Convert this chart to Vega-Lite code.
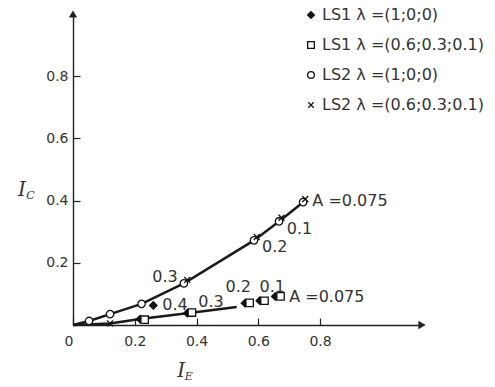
{
  "$schema": "https://vega.github.io/schema/vega-lite/v6.json",
  "autosize": {"type": "none"},
  "padding": {"left": 73, "top": 14, "right": 73, "bottom": 62},
  "width": 349,
  "height": 311,
  "background": "white",
  "config": {
    "view": {"stroke": null},
    "font": "DejaVu Sans",
    "axis": {"grid": false, "domainColor": "#222", "domainWidth": 1.4, "tickColor": "#222", "tickWidth": 1.2, "labelFont": "DejaVu Sans", "labelFontSize": 14, "labelColor": "#333"},
    "legend": {"symbolStrokeColor": "#111", "symbolStrokeWidth": 1.3}
  },
  "datasets": {
    "lines": [
      {"line": "upper", "x": 0, "y": 0},
      {"line": "upper", "x": 0.052, "y": 0.013},
      {"line": "upper", "x": 0.12, "y": 0.035},
      {"line": "upper", "x": 0.222, "y": 0.068},
      {"line": "upper", "x": 0.359, "y": 0.134},
      {"line": "upper", "x": 0.586, "y": 0.272},
      {"line": "upper", "x": 0.667, "y": 0.333},
      {"line": "upper", "x": 0.745, "y": 0.395},
      {"line": "lower", "x": 0, "y": 0},
      {"line": "lower", "x": 0.12, "y": 0.005},
      {"line": "lower", "x": 0.217, "y": 0.019},
      {"line": "lower", "x": 0.37, "y": 0.038},
      {"line": "lower", "x": 0.53, "y": 0.058}
    ],
    "points": [
      {"s": "LS1  λ =(1;0;0)", "x": 0.217, "y": 0.019},
      {"s": "LS1  λ =(1;0;0)", "x": 0.26, "y": 0.063},
      {"s": "LS1  λ =(1;0;0)", "x": 0.37, "y": 0.038},
      {"s": "LS1  λ =(1;0;0)", "x": 0.557, "y": 0.07},
      {"s": "LS1  λ =(1;0;0)", "x": 0.605, "y": 0.078},
      {"s": "LS1  λ =(1;0;0)", "x": 0.655, "y": 0.092},
      {"s": "LS1  λ =(0.6;0.3;0.1)", "x": 0.232, "y": 0.017},
      {"s": "LS1  λ =(0.6;0.3;0.1)", "x": 0.385, "y": 0.04},
      {"s": "LS1  λ =(0.6;0.3;0.1)", "x": 0.572, "y": 0.071},
      {"s": "LS1  λ =(0.6;0.3;0.1)", "x": 0.62, "y": 0.078},
      {"s": "LS1  λ =(0.6;0.3;0.1)", "x": 0.672, "y": 0.092},
      {"s": "LS2 λ =(1;0;0)", "x": 0.052, "y": 0.013},
      {"s": "LS2 λ =(1;0;0)", "x": 0.12, "y": 0.035},
      {"s": "LS2 λ =(1;0;0)", "x": 0.222, "y": 0.068},
      {"s": "LS2 λ =(1;0;0)", "x": 0.359, "y": 0.134},
      {"s": "LS2 λ =(1;0;0)", "x": 0.586, "y": 0.272},
      {"s": "LS2 λ =(1;0;0)", "x": 0.667, "y": 0.333},
      {"s": "LS2 λ =(1;0;0)", "x": 0.745, "y": 0.395},
      {"s": "LS2 λ =(0.6;0.3;0.1)", "x": 0.12, "y": 0.005},
      {"s": "LS2 λ =(0.6;0.3;0.1)", "x": 0.37, "y": 0.145},
      {"s": "LS2 λ =(0.6;0.3;0.1)", "x": 0.595, "y": 0.283},
      {"s": "LS2 λ =(0.6;0.3;0.1)", "x": 0.675, "y": 0.345},
      {"s": "LS2 λ =(0.6;0.3;0.1)", "x": 0.752, "y": 0.405}
    ],
    "labelsLeft": [
      {"t": "A =0.075", "x": 0.775, "y": 0.4},
      {"t": "0.1", "x": 0.692, "y": 0.31},
      {"t": "0.2", "x": 0.612, "y": 0.25},
      {"t": "A =0.075", "x": 0.7, "y": 0.09}
    ],
    "labelsCenter": [
      {"t": "0.3", "x": 0.298, "y": 0.154},
      {"t": "0.2", "x": 0.535, "y": 0.122},
      {"t": "0.1", "x": 0.645, "y": 0.122},
      {"t": "0.3", "x": 0.447, "y": 0.074},
      {"t": "0.4", "x": 0.33, "y": 0.064}
    ],
    "titleMain": [
      {"t": "I", "x": 0.35, "y": -0.148},
      {"t": "I", "x": -0.165, "y": 0.434}
    ],
    "titleSub": [
      {"t": "E", "x": 0.375, "y": -0.168},
      {"t": "C", "x": -0.138, "y": 0.415}
    ],
    "arrowX": [{"x": 1.13, "y": 0}],
    "arrowY": [{"x": 0, "y": 1.0}]
  },
  "layer": [
    {
      "data": {"name": "lines"},
      "mark": {"type": "line", "color": "#1a1a1a", "strokeWidth": 2.5},
      "encoding": {
        "x": {"field": "x", "type": "quantitative", "scale": {"domain": [0, 1.13], "nice": false},
              "axis": {"title": null, "values": [0, 0.2, 0.4, 0.6, 0.8], "tickSize": -7, "labelPadding": 16,
                       "labelAlign": {"expr": "datum.value == 0 ? 'right' : 'center'"},
                       "labelExpr": "datum.value == 0 ? '0' : format(datum.value, '.1f')"}},
        "y": {"field": "y", "type": "quantitative", "scale": {"domain": [0, 1.0], "nice": false},
              "axis": {"title": null, "values": [0.2, 0.4, 0.6, 0.8], "tickSize": -7, "labelPadding": 12,
                       "format": ".1f"}},
        "detail": {"field": "line"}
      }
    },
    {
      "data": {"name": "points"},
      "mark": {"type": "point", "strokeWidth": 1.3, "size": 55, "opacity": 1},
      "encoding": {
        "x": {"field": "x", "type": "quantitative"},
        "y": {"field": "y", "type": "quantitative"},
        "shape": {"field": "s", "type": "nominal",
                  "scale": {"domain": ["LS1  λ =(1;0;0)", "LS1  λ =(0.6;0.3;0.1)", "LS2 λ =(1;0;0)", "LS2 λ =(0.6;0.3;0.1)"],
                            "range": ["diamond", "square", "circle", "M-0.8,-0.8L0.8,0.8M-0.8,0.8L0.8,-0.8"]},
                  "legend": {"title": null, "orient": "none", "legendX": 230, "legendY": -7, "labelFontSize": 16,
                             "labelColor": "#333", "labelLimit": 300, "rowPadding": 14, "symbolSize": 45, "labelOffset": 3}},
        "fill": {"field": "s", "type": "nominal",
                 "scale": {"domain": ["LS1  λ =(1;0;0)", "LS1  λ =(0.6;0.3;0.1)", "LS2 λ =(1;0;0)", "LS2 λ =(0.6;0.3;0.1)"],
                           "range": ["#111", "white", "white", "transparent"]},
                 "legend": {"title": null, "orient": "none", "legendX": 230, "legendY": -7, "labelFontSize": 16,
                            "labelColor": "#333", "labelLimit": 300, "rowPadding": 14, "symbolSize": 45, "labelOffset": 3}},
        "stroke": {"field": "s", "type": "nominal",
                   "scale": {"domain": ["LS1  λ =(1;0;0)", "LS1  λ =(0.6;0.3;0.1)", "LS2 λ =(1;0;0)", "LS2 λ =(0.6;0.3;0.1)"],
                             "range": ["#111", "#111", "#111", "#111"]},
                   "legend": {"title": null, "orient": "none", "legendX": 230, "legendY": -7, "labelFontSize": 16,
                              "labelColor": "#333", "labelLimit": 300, "rowPadding": 14, "symbolSize": 45, "labelOffset": 3}}
      }
    },
    {
      "data": {"name": "labelsLeft"},
      "mark": {"type": "text", "align": "left", "baseline": "middle", "fontSize": 16, "color": "#333"},
      "encoding": {
        "x": {"field": "x", "type": "quantitative"},
        "y": {"field": "y", "type": "quantitative"},
        "text": {"field": "t"}
      }
    },
    {
      "data": {"name": "labelsCenter"},
      "mark": {"type": "text", "align": "center", "baseline": "middle", "fontSize": 16, "color": "#333"},
      "encoding": {
        "x": {"field": "x", "type": "quantitative"},
        "y": {"field": "y", "type": "quantitative"},
        "text": {"field": "t"}
      }
    },
    {
      "data": {"name": "titleMain"},
      "mark": {"type": "text", "align": "center", "baseline": "middle", "fontSize": 20, "font": "DejaVu Serif", "fontStyle": "italic", "color": "#333"},
      "encoding": {
        "x": {"field": "x", "type": "quantitative"},
        "y": {"field": "y", "type": "quantitative"},
        "text": {"field": "t"}
      }
    },
    {
      "data": {"name": "titleSub"},
      "mark": {"type": "text", "align": "center", "baseline": "middle", "fontSize": 11, "font": "DejaVu Serif", "fontStyle": "italic", "color": "#333"},
      "encoding": {
        "x": {"field": "x", "type": "quantitative"},
        "y": {"field": "y", "type": "quantitative"},
        "text": {"field": "t"}
      }
    },
    {
      "data": {"name": "arrowX"},
      "mark": {"type": "point", "shape": "triangle-right", "filled": true, "color": "#222", "size": 70, "opacity": 1},
      "encoding": {
        "x": {"field": "x", "type": "quantitative"},
        "y": {"field": "y", "type": "quantitative"}
      }
    },
    {
      "data": {"name": "arrowY"},
      "mark": {"type": "point", "shape": "triangle-up", "filled": true, "color": "#222", "size": 70, "opacity": 1},
      "encoding": {
        "x": {"field": "x", "type": "quantitative"},
        "y": {"field": "y", "type": "quantitative"}
      }
    }
  ]
}
